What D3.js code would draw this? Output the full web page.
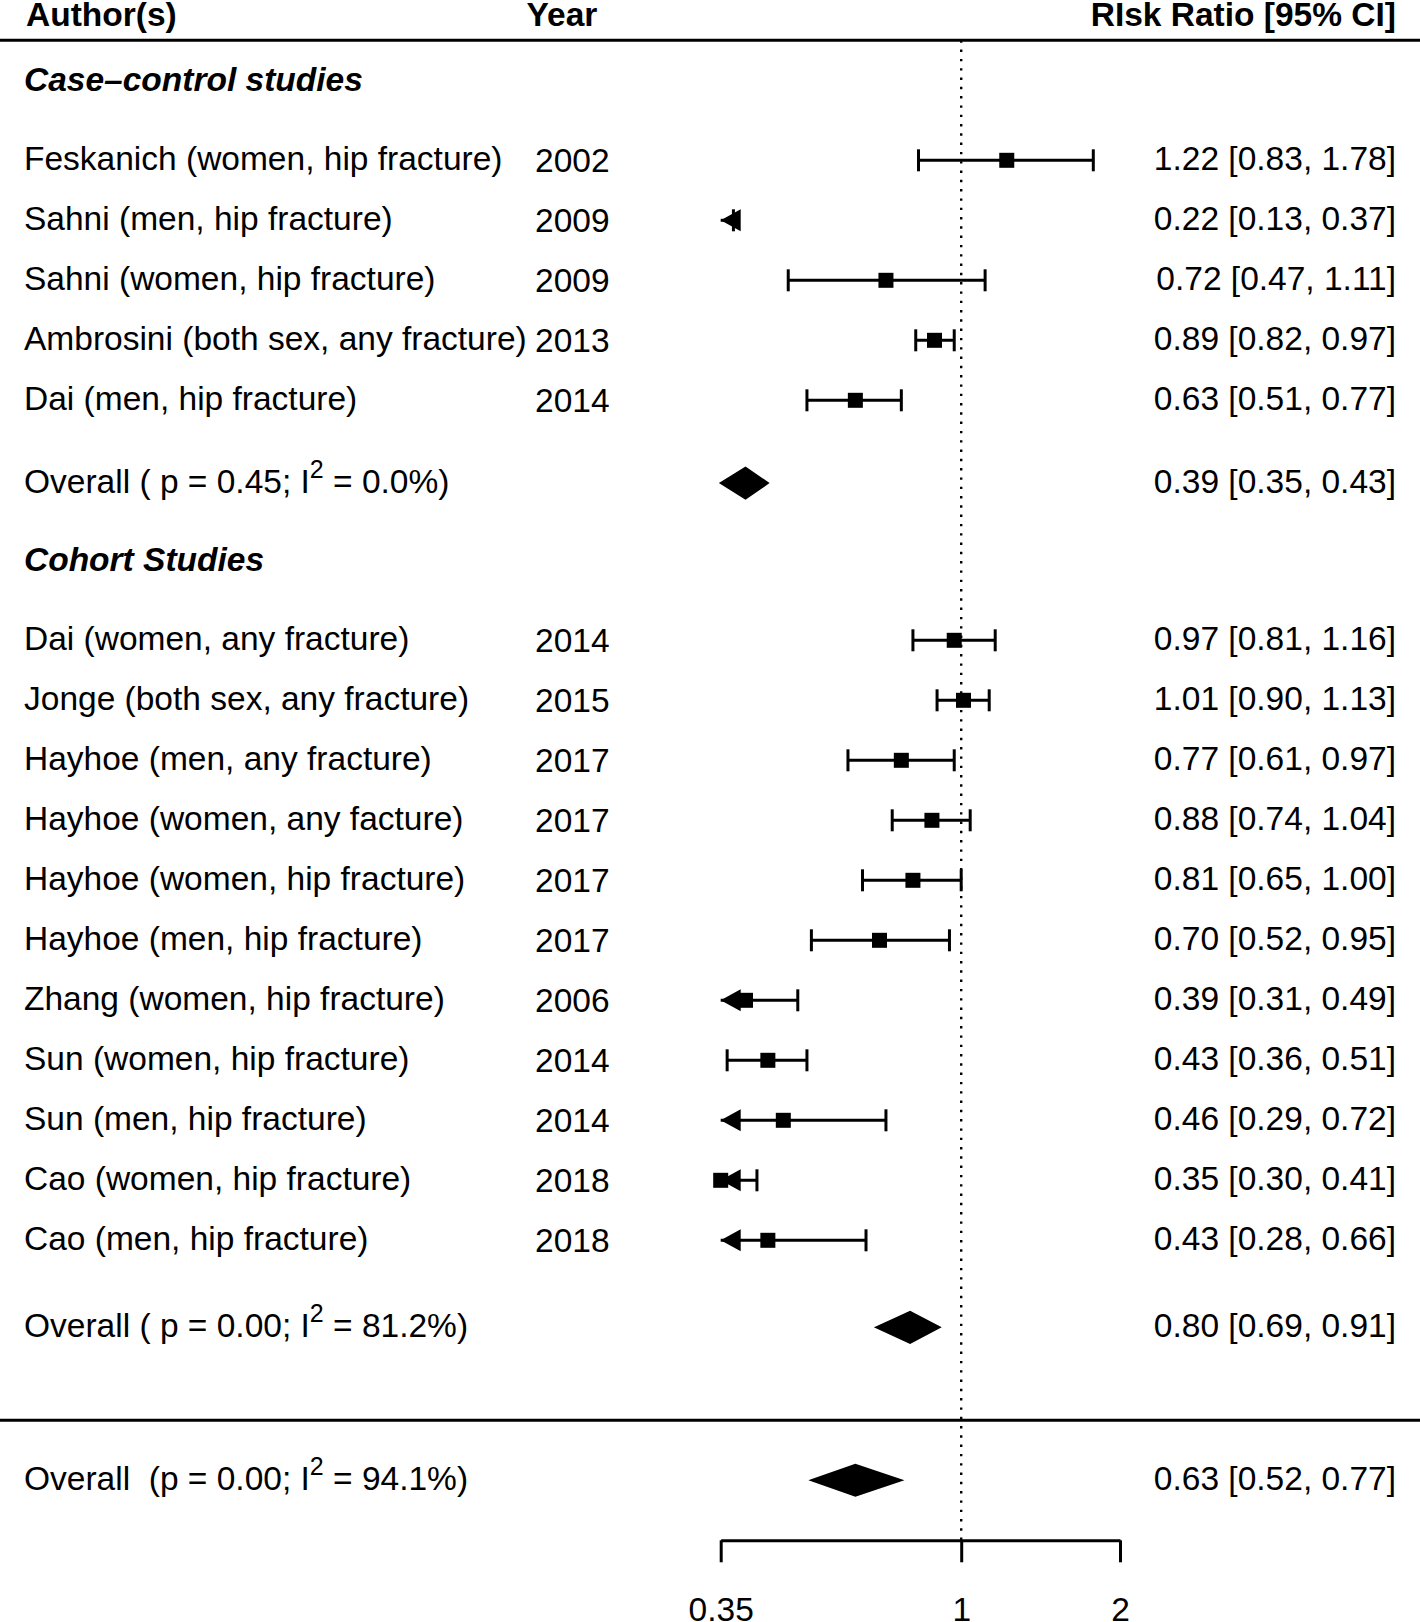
<!DOCTYPE html>
<html>
<head>
<meta charset="utf-8">
<script src="https://cdn.jsdelivr.net/npm/d3@7"></script>
<style>
  html, body { margin: 0; padding: 0; background: #fff; }
  svg { display: block; }
  text { font-family: "Liberation Sans", Arial, Helvetica, sans-serif; fill: #000; }
</style>
</head>
<body>
<svg id="chart" width="1420" height="1622"></svg>
<script>
// ---------------- DATA ----------------
const ccAuthors = ["Feskanich (women, hip fracture)", "Sahni (men, hip fracture)", "Sahni (women, hip fracture)",
  "Ambrosini (both sex, any fracture)", "Dai (men, hip fracture)"];
const ccYears = ["2002", "2009", "2009", "2013", "2014"];
const ccEst = [1.22, 0.22, 0.72, 0.89, 0.63];
const ccLo  = [0.83, 0.13, 0.47, 0.82, 0.51];
const ccHi  = [1.78, 0.37, 1.11, 0.97, 0.77];

const coAuthors = ["Dai (women, any fracture)", "Jonge (both sex, any fracture)", "Hayhoe (men, any fracture)",
  "Hayhoe (women, any facture)", "Hayhoe (women, hip fracture)", "Hayhoe (men, hip fracture)",
  "Zhang (women, hip fracture)", "Sun (women, hip fracture)", "Sun (men, hip fracture)",
  "Cao (women, hip fracture)", "Cao (men, hip fracture)"];
const coYears = ["2014", "2015", "2017", "2017", "2017", "2017", "2006", "2014", "2014", "2018", "2018"];
const coEst = [0.97, 1.01, 0.77, 0.88, 0.81, 0.70, 0.39, 0.43, 0.46, 0.35, 0.43];
const coLo  = [0.81, 0.90, 0.61, 0.74, 0.65, 0.52, 0.31, 0.36, 0.29, 0.30, 0.28];
const coHi  = [1.16, 1.13, 0.97, 1.04, 1.00, 0.95, 0.49, 0.51, 0.72, 0.41, 0.66];

const groupTitles = ["Case\u2013control studies", "Cohort Studies"];
const summaryP  = ["0.45", "0.00", "0.00"];
const summaryI2 = ["0.0", "81.2", "94.1"];
const summaryEst = [0.39, 0.80, 0.63];
const summaryLo  = [0.35, 0.69, 0.52];
const summaryHi  = [0.43, 0.91, 0.77];

const headers = ["Author(s)", "Year", "RIsk Ratio [95% CI]"];
const xTicks = [0.35, 1, 2];
const xTickLabels = ["0.35", "1", "2"];

// ---------------- LAYOUT ----------------
const W = 1420, H = 1622;
const FS = 33.5;
const svg = d3.select("#chart");
const fmt = d3.format(".2f");

const x = d3.scaleLog().domain([0.35, 2]).range([720.7, 1120]);
const y = d3.scaleLinear().domain([0, 1]).range([160.3, 220.3]); // row units -> px

const xLabel = 24, xYear = 535, xRight = 1396;
const sq = 15, capH = 11, arrowLen = 20;
const txtOff = 10, yearOff = 12;

// row positions (row units)
const ccRows = ccEst.map((d, i) => i);
const coRows = coEst.map((d, i) => 8 + i);
const titleRows = [-1.32, 6.68];
const sumRows = [5.38, 19.45, 22];
const sepRow = 21, axisRow = 23, headRow = -2;

// header
svg.append("text").attr("x", 26).attr("y", 26).attr("font-size", FS).attr("font-weight", "bold").text(headers[0]);
svg.append("text").attr("x", 562).attr("y", 26).attr("font-size", FS).attr("font-weight", "bold").attr("text-anchor", "middle").text(headers[1]);
svg.append("text").attr("x", xRight).attr("y", 26).attr("font-size", FS).attr("font-weight", "bold").attr("text-anchor", "end").text(headers[2]);

svg.append("line").attr("x1", 0).attr("x2", W).attr("y1", y(headRow)).attr("y2", y(headRow))
  .attr("stroke", "#000").attr("stroke-width", 3);
svg.append("line").attr("x1", 0).attr("x2", W).attr("y1", y(sepRow)).attr("y2", y(sepRow))
  .attr("stroke", "#000").attr("stroke-width", 3);

// reference line
svg.append("line").attr("x1", x(1)).attr("x2", x(1)).attr("y1", y(headRow)).attr("y2", y(axisRow))
  .attr("stroke", "#000").attr("stroke-width", 2.4).attr("stroke-dasharray", "2.4 6.9");

// group titles
titleRows.forEach((r, i) => {
  svg.append("text").attr("x", xLabel).attr("y", y(r) + txtOff).attr("font-size", FS)
    .attr("font-weight", "bold").attr("font-style", "italic").text(groupTitles[i]);
});

// studies
function drawStudies(authors, years, est, lo, hi, rows) {
  const g = svg.append("g");
  authors.forEach((a, i) => {
    const yy = y(rows[i]);
    g.append("text").attr("x", xLabel).attr("y", yy + txtOff).attr("font-size", FS).text(a);
    g.append("text").attr("x", xYear).attr("y", yy + yearOff).attr("font-size", FS).text(years[i]);
    g.append("text").attr("x", xRight).attr("y", yy + txtOff).attr("font-size", FS).attr("text-anchor", "end")
      .text(`${fmt(est[i])} [${fmt(lo[i])}, ${fmt(hi[i])}]`);
    const [dmin, dmax] = x.domain();
    const clipLo = lo[i] < dmin;
    const xl = clipLo ? x(dmin) : x(lo[i]);
    const xh = x(Math.min(hi[i], dmax));
    g.append("line").attr("x1", xl).attr("x2", xh).attr("y1", yy).attr("y2", yy)
      .attr("stroke", "#000").attr("stroke-width", 3);
    g.append("line").attr("x1", xh).attr("x2", xh).attr("y1", yy - capH).attr("y2", yy + capH)
      .attr("stroke", "#000").attr("stroke-width", 3);
    if (clipLo) {
      g.append("path").attr("d", `M${xl},${yy} L${xl + arrowLen},${yy - capH} L${xl + arrowLen},${yy + capH} Z`)
        .attr("fill", "#000");
    } else {
      g.append("line").attr("x1", xl).attr("x2", xl).attr("y1", yy - capH).attr("y2", yy + capH)
        .attr("stroke", "#000").attr("stroke-width", 3);
    }
    if (est[i] >= dmin - 1e-9) {
      g.append("rect").attr("x", x(est[i]) - sq / 2).attr("y", yy - sq / 2)
        .attr("width", sq).attr("height", sq).attr("fill", "#000");
    }
  });
}
drawStudies(ccAuthors, ccYears, ccEst, ccLo, ccHi, ccRows);
drawStudies(coAuthors, coYears, coEst, coLo, coHi, coRows);

// summaries
const sumPrefix = ["Overall ( p = ", "Overall ( p = ", "Overall  (p = "];
sumRows.forEach((r, i) => {
  const yy = y(r);
  const t = svg.append("text").attr("x", xLabel).attr("y", yy + txtOff).attr("font-size", FS)
    .attr("xml:space", "preserve").style("white-space", "pre");
  t.append("tspan").text(`${sumPrefix[i]}${summaryP[i]}; I`);
  t.append("tspan").attr("dy", -15).attr("font-size", 25).text("2");
  t.append("tspan").attr("dy", 15).text(` = ${summaryI2[i]}%)`);
  svg.append("text").attr("x", xRight).attr("y", yy + txtOff).attr("font-size", FS).attr("text-anchor", "end")
    .text(`${fmt(summaryEst[i])} [${fmt(summaryLo[i])}, ${fmt(summaryHi[i])}]`);
  const h = 15.5;
  svg.append("path")
    .attr("d", `M${x(summaryLo[i])},${yy} L${x(summaryEst[i])},${yy - h} L${x(summaryHi[i])},${yy} L${x(summaryEst[i])},${yy + h} Z`)
    .attr("fill", "#000").attr("stroke", "#000").attr("stroke-width", 2)
    .attr("stroke-linejoin", "miter").attr("stroke-miterlimit", 10);
});

// axis
const axis = d3.axisBottom(x).tickValues(xTicks).tickFormat((d, i) => xTickLabels[i])
  .tickSize(22).tickSizeOuter(0).tickPadding(35);
const ag = svg.append("g").attr("transform", `translate(0,${y(axisRow)})`).call(axis);
ag.select(".domain").attr("stroke-width", 3);
ag.selectAll(".tick line").attr("stroke-width", 3);
ag.selectAll(".tick text").attr("font-size", FS).attr("font-family", "Liberation Sans, Arial, sans-serif").attr("fill", "#000");
</script>
</body>
</html>
